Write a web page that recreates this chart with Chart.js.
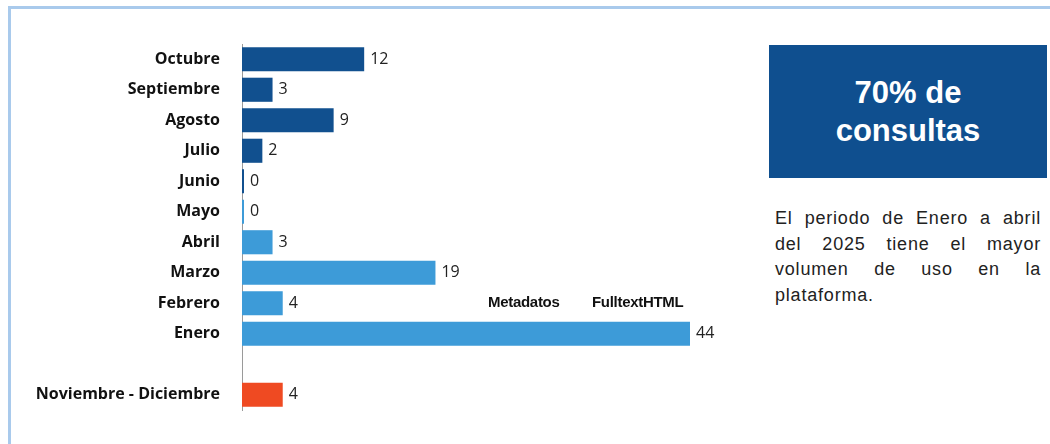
<!DOCTYPE html>
<html>
<head>
<meta charset="utf-8">
<script src="https://cdn.jsdelivr.net/npm/chart.js@4"></script>
<style>
  body { margin: 0; background: #fff; width: 1050px; height: 444px; overflow: hidden; position: relative; }
  .frame { position: absolute; left: 8px; top: 6px; width: 1100px; height: 500px; border: 3px solid #a9caec; box-sizing: border-box; }
  #wrap { position: absolute; left: 0; top: 0; width: 760px; height: 444px; }
  .box { position: absolute; left: 769px; top: 45px; width: 278px; height: 133px; background: #0f4f8f;
         color: #fff; font: bold 31px "Liberation Sans", Arial, sans-serif; text-align: center; line-height: 38px;
         display: flex; align-items: center; justify-content: center; }
  .note { position: absolute; left: 775px; top: 206px; width: 266px; font: 18px "Liberation Sans", Arial, sans-serif;
          letter-spacing: 0.8px; color: #222; text-align: justify; line-height: 25.5px; }
  .leg { position: absolute; top: 293px; font: bold 15px "Liberation Sans", Arial, sans-serif; color: #111; letter-spacing: -0.3px; }
</style>
</head>
<body>
<div class="frame"></div>
<div id="wrap"><canvas id="myChart"></canvas></div>
<div class="box">70% de<br>consultas</div>
<div class="note">El periodo de Enero a abril del 2025 tiene el mayor volumen de uso en la plataforma.</div>
<div class="leg" style="left:488px">Metadatos</div>
<div class="leg" style="left:592px">FulltextHTML</div>
<script>
var months = ['Octubre', 'Septiembre', 'Agosto', 'Julio', 'Junio', 'Mayo', 'Abril', 'Marzo', 'Febrero', 'Enero', '', 'Noviembre - Diciembre'];
var consultas = [12, 3, 9, 2, 0, 0, 3, 19, 4, 44, null, 4];
var barColors = ['#11508f', '#11508f', '#11508f', '#11508f', '#11508f', '#3d9bd8', '#3d9bd8', '#3d9bd8', '#3d9bd8', '#3d9bd8', '#3d9bd8', '#ef4a22'];

var valueLabels = {
    id: 'valueLabels',
    afterDatasetsDraw: function(chart) {
        var ctx = chart.ctx;
        var meta = chart.getDatasetMeta(0);
        ctx.save();
        ctx.font = '16px "Open Sans", sans-serif';
        ctx.fillStyle = '#222';
        ctx.textBaseline = 'middle';
        meta.data.forEach(function(bar, i) {
            if (consultas[i] === null) return;
            ctx.fillText(consultas[i], Math.max(bar.x, bar.base + 2) + 6, bar.y);
        });
        ctx.restore();
    }
};

var ctx = document.getElementById('myChart').getContext('2d');
var myChart = new Chart(ctx, {
    type: 'bar',
    data: {
        labels: months,
        datasets: [{
            data: consultas,
            backgroundColor: barColors,
            barPercentage: 1,
            categoryPercentage: 0.79,
            minBarLength: 2
        }]
    },
    options: {
        indexAxis: 'y',
        responsive: true,
        maintainAspectRatio: false,
        animation: false,
        layout: { padding: { top: 44, bottom: 34, right: 70, left: 0 } },
        plugins: {
            legend: { display: false },
            tooltip: { enabled: false }
        },
        scales: {
            x: { display: false, min: 0, max: 44 },
            y: {
                afterFit: function(scale) { scale.width = 242; },
                grid: { display: false, drawTicks: false },
                border: { color: '#9a9a9a', width: 1 },
                ticks: {
                    color: '#111',
                    padding: 22,
                    font: { family: '"Open Sans", sans-serif', size: 16, weight: 'bold' }
                }
            }
        }
    },
    plugins: [valueLabels]
});
</script>
</body>
</html>
